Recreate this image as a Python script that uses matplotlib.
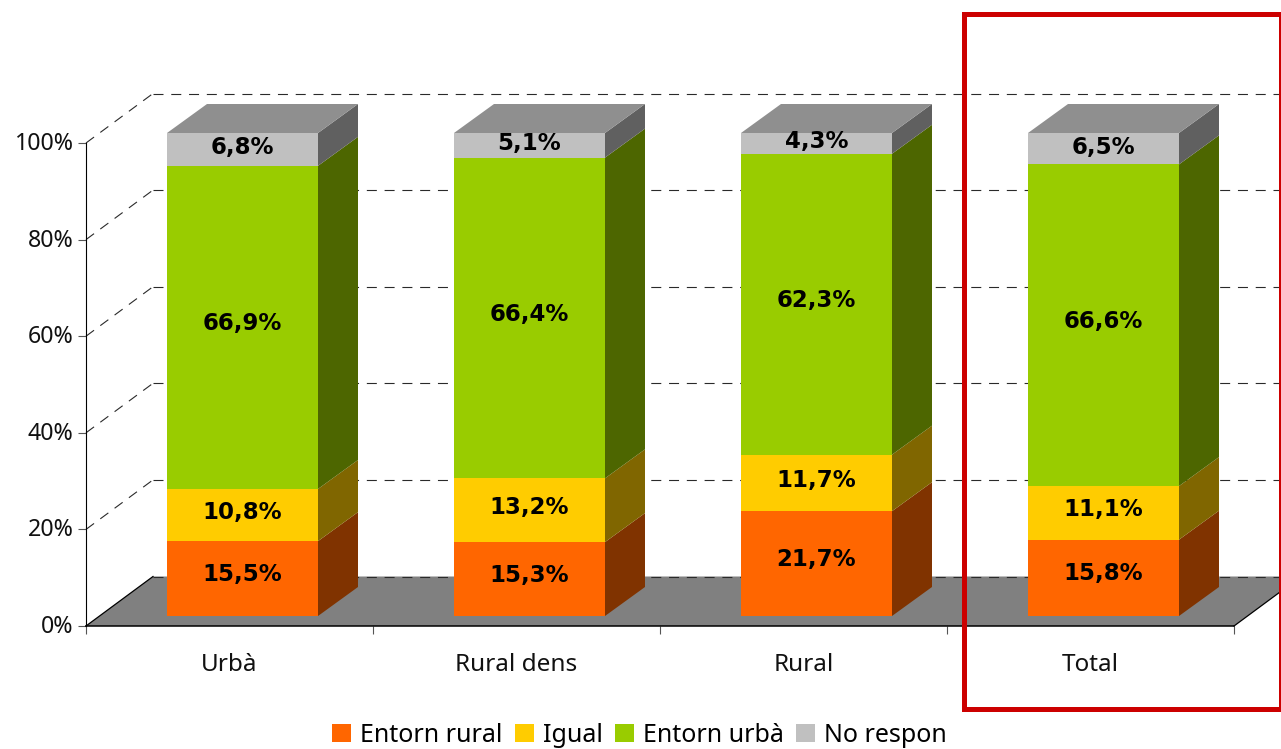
import numpy as np
import matplotlib.pyplot as plt
from matplotlib.patches import Polygon, Rectangle, Patch
from matplotlib.transforms import ScaledTranslation

W, H = 1281, 749

categories = ["Urbà", "Rural dens", "Rural", "Total"]
series = ["Entorn rural", "Igual", "Entorn urbà", "No respon"]
entorn_rural = [15.5, 15.3, 21.7, 15.8]
igual = [10.8, 13.2, 11.7, 11.1]
entorn_urba = [66.9, 66.4, 62.3, 66.6]
no_respon = [6.8, 5.1, 4.3, 6.5]
yticks = [0, 20, 40, 60, 80, 100]

front_colors = ["#FF6600", "#FFCC00", "#99CC00", "#C0C0C0"]
side_colors = ["#803300", "#806600", "#4D6600", "#606060"]
top_color = "#8F8F8F"
floor_color = "#808080"

plt.rcParams['font.family'] = ['Noto Sans', 'DejaVu Sans']

fig = plt.figure(figsize=(W / 100, H / 100), dpi=100)
ax = fig.add_axes([86 / W, 1 - 626 / H, (1234 - 86) / W, (626 - 143) / H])
ax.set_xlim(0, 4)
ax.set_ylim(0, 100)

# pixels to data units, the 3d look is only offsets
px_x = 4 / (1234 - 86)
px_y = 100 / (626 - 143)
wall_dx, wall_dy = 67 * px_x, 49.5 * px_y
bar_dx, bar_dy = 13 * px_x, 10 * px_y
side_dx, side_dy = 40 * px_x, 29 * px_y
bar_width = 151 * px_x

ax.add_patch(Polygon([(0, 0), (4, 0), (4 + wall_dx, wall_dy), (wall_dx, wall_dy)],
                     closed=True, fc=floor_color, ec="none", clip_on=False, zorder=1))
ax.plot([0, wall_dx], [0, wall_dy], color="black", lw=0.9, clip_on=False, zorder=2)
ax.plot([4, 4 + wall_dx], [0, wall_dy], color="black", lw=0.9, clip_on=False, zorder=2)
for t in yticks:
    ax.plot([wall_dx, 4 + wall_dx], [t + wall_dy, t + wall_dy], color="#2A2A2A", lw=0.8,
            dashes=(9, 7), clip_on=False, zorder=2)
    if t > 0:
        ax.plot([0, wall_dx], [t, t + wall_dy], color="#2A2A2A", lw=0.8,
                dashes=(9, 7), clip_on=False, zorder=2)

x = np.arange(len(categories)) + 0.5 + bar_dx
values = [entorn_rural, igual, entorn_urba, no_respon]
label_shift = [-0.8, -0.6, -0.8, -0.3]
bottom = np.full(len(categories), bar_dy)
for vals, fc, sc, shift in zip(values, front_colors, side_colors, label_shift):
    vals = np.array(vals)
    ax.bar(x, vals, bar_width, bottom=bottom, color=fc, clip_on=False, zorder=4)
    for xi, b, v in zip(x, bottom, vals):
        r = xi + bar_width / 2
        ax.add_patch(Polygon([(r, b), (r + side_dx, b + side_dy),
                              (r + side_dx, b + v + side_dy), (r, b + v)],
                             closed=True, fc=sc, ec="none", clip_on=False, zorder=3))
        ax.text(xi, b + v / 2 - shift, ("%.1f%%" % v).replace(".", ","), ha="center", va="center",
                fontsize=16.5, fontweight="bold", family="DejaVu Sans", color="black", zorder=5)
    bottom = bottom + vals

for xi, top in zip(x, bottom):
    l, r = xi - bar_width / 2, xi + bar_width / 2
    ax.add_patch(Polygon([(l, top), (r, top), (r + side_dx, top + side_dy), (l + side_dx, top + side_dy)],
                         closed=True, fc=top_color, ec="none", clip_on=False, zorder=3))

ax.patch.set_visible(False)
for s in ["top", "right"]:
    ax.spines[s].set_visible(False)
ax.spines["left"].set_zorder(6)
ax.spines["bottom"].set_zorder(6)
ax.spines["bottom"].set_linewidth(1.1)
ax.set_yticks(yticks)
ax.set_yticklabels(["%d%%" % t for t in yticks], fontsize=16.7, color="#111111")
ax.tick_params(axis="y", length=6, width=0.8, color="#555555", pad=3)
up = ScaledTranslation(0, 2 / 100, fig.dpi_scale_trans)
for lab in ax.get_yticklabels():
    lab.set_transform(lab.get_transform() + up)
ax.set_xticks(range(5))
ax.set_xticklabels([])
ax.tick_params(axis="x", which="major", length=6, width=0.8, color="#555555")
ax.set_xticks(np.arange(len(categories)) + 0.5, minor=True)
ax.set_xticklabels(categories, minor=True, fontsize=17.5, color="#111111")
ax.tick_params(axis="x", which="minor", length=0, pad=19.5)

handles = [Patch(fc=c, ec="none") for c in front_colors]
fig.legend(handles, series, ncol=4, loc="center", bbox_to_anchor=(639.5 / W, 1 - 735 / H),
           frameon=False, fontsize=18, handlelength=0.76, handleheight=0.76,
           handletextpad=0.35, columnspacing=0.5, borderpad=0, borderaxespad=0)

# red box around the Total column
fig.add_artist(Rectangle((964.5 / W, 1 - 708.5 / H), (1281.5 - 964.5) / W, (708.5 - 13.5) / H,
                         transform=fig.transFigure, fill=False, ec="#CC0000", lw=3.6, zorder=10))

fig.savefig("out.png", dpi=100)
